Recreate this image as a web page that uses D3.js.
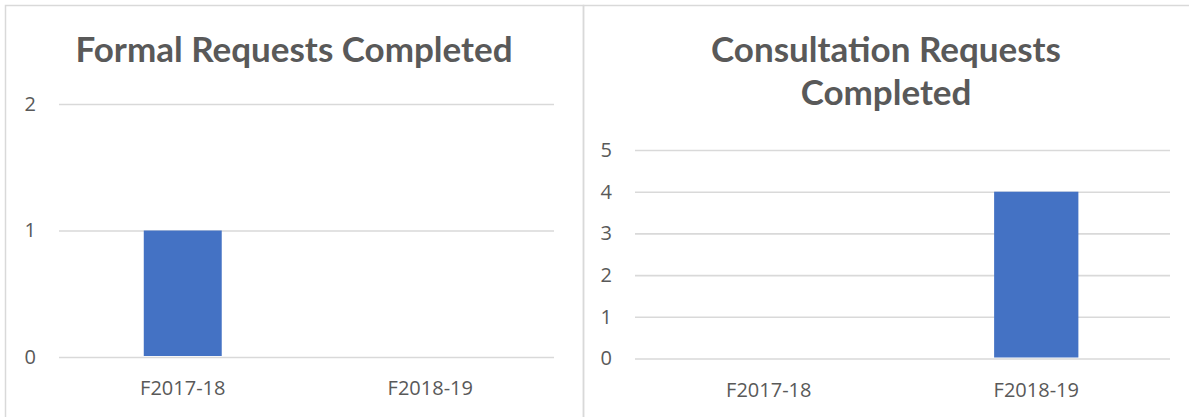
<!DOCTYPE html>
<html>
<head>
<meta charset="utf-8">
<script src="https://cdn.jsdelivr.net/npm/d3@7"></script>
<style>
  body { margin: 0; background: #fff; }
  svg { display: block; }
</style>
</head>
<body>
<div id="viz"></div>
<script>
const width = 1189;
const height = 417;
const barColor = '#4472C4';
const textColor = '#595959';
const gridColor = '#D9D9D9';

// data
const categories = ['F2017-18', 'F2018-19'];
const formalValues = [1, 0];
const consultValues = [0, 4];
const formalTicks = [0, 1, 2];
const consultTicks = [0, 1, 2, 3, 4, 5];

const panels = [
  {
    title: ['Formal Requests Completed'],
    values: formalValues,
    ticks: formalTicks,
    x0: 5, x1: 583,
    plot: {left: 59, right: 554, top: 104, bottom: 357},
    max: 2
  },
  {
    title: ['Consultation Requests', 'Completed'],
    values: consultValues,
    ticks: consultTicks,
    x0: 583, x1: 1195,
    plot: {left: 635, right: 1170, top: 150, bottom: 358.5},
    max: 5
  }
];

const svg = d3.select('#viz')
  .append('svg')
    .attr('width', width)
    .attr('height', height)
    .attr('viewBox', [0, 0, width, height]);

panels.forEach(p => {
  // panel frame
  svg.append('rect')
    .attr('x', p.x0 + 0.5)
    .attr('y', 5.5)
    .attr('width', p.x1 - p.x0)
    .attr('height', height + 10)
    .attr('fill', 'none')
    .attr('stroke', gridColor)
    .attr('stroke-width', 1.5);

  const xScale = d3.scaleBand()
    .domain(categories)
    .range([p.plot.left, p.plot.right])
    .paddingInner(0.685)
    .paddingOuter(0.3425);

  const yScale = d3.scaleLinear()
    .domain([0, p.max])
    .range([p.plot.bottom, p.plot.top]);

  // gridlines + y labels
  const yAxis = svg.append('g')
    .attr('transform', `translate(${p.plot.left}, 0)`)
    .call(d3.axisLeft(yScale)
      .tickValues(p.ticks)
      .tickFormat(d3.format('d'))
      .tickSize(-(p.plot.right - p.plot.left))
      .tickPadding(23));
  yAxis.select('.domain').remove();
  yAxis.selectAll('line')
    .attr('stroke', gridColor)
    .attr('stroke-width', 1.6);
  yAxis.selectAll('text')
    .attr('fill', textColor)
    .style('font-family', '"Open Sans", sans-serif')
    .style('font-size', '20px');

  // bars
  svg.append('g')
    .selectAll('rect')
    .data(categories.map((c, i) => ({cat: c, value: p.values[i]})))
    .join('rect')
      .attr('x', d => xScale(d.cat))
      .attr('y', d => yScale(d.value))
      .attr('width', xScale.bandwidth())
      .attr('height', d => yScale(0) - yScale(d.value) - 1)
      .attr('fill', barColor);

  // category labels
  const xAxis = svg.append('g')
    .attr('transform', `translate(0, ${p.plot.bottom})`)
    .call(d3.axisBottom(xScale).tickSize(0).tickPadding(24));
  xAxis.select('.domain').remove();
  xAxis.selectAll('text')
    .attr('fill', textColor)
    .style('font-family', '"Open Sans", sans-serif')
    .style('font-size', '20px');

  // title
  const cx = (p.x0 + p.x1) / 2;
  svg.append('text')
    .attr('text-anchor', 'middle')
    .attr('fill', textColor)
    .style('font-family', 'Lato, sans-serif')
    .style('font-weight', 'bold')
    .style('font-size', '35px')
    .selectAll('tspan')
    .data(p.title)
    .join('tspan')
      .attr('x', p.x1 > width ? 886 : cx)
      .attr('y', (d, i) => 62 + i * 43)
      .text(d => d);
});
</script>
</body>
</html>
